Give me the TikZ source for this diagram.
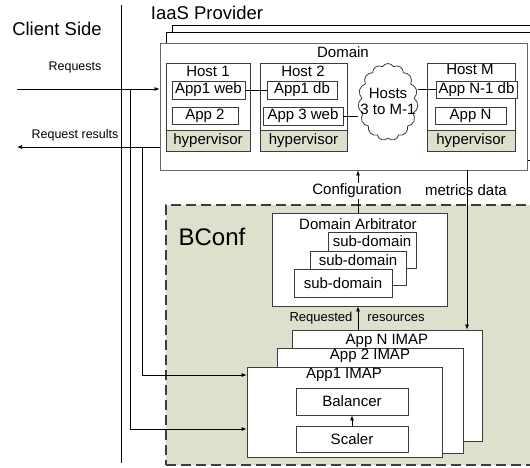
\documentclass[tikz,border=0pt]{standalone}
\usepackage{fontspec}
\setmainfont{Liberation Sans}
\usetikzlibrary{arrows.meta,shapes.symbols}
\definecolor{bgreen}{RGB}{221,224,204}
\definecolor{edge}{RGB}{60,60,60}
\tikzset{
  box/.style={draw=edge,fill=white,line width=0.8pt,inner sep=0pt},
  hyp/.style={draw=edge,fill=bgreen,line width=0.8pt,inner sep=0pt,font=\fontsize{15}{17}\selectfont},
  txt/.style={inner sep=0pt,font=\fontsize{15}{17}\selectfont},
  small/.style={inner sep=0pt,font=\fontsize{12.5}{14}\selectfont},
  big/.style={inner sep=0pt,font=\fontsize{18.5}{20}\selectfont},
  arr/.style={-{Latex[length=5pt,width=4pt]},line width=0.7pt},
  conn/.style={line width=0.7pt},
}
\begin{document}
\begin{tikzpicture}[x=1pt,y=-1pt]
\useasboundingbox (0,0) rectangle (530,467);
\clip (0,0) rectangle (530,467);
% BConf area
\node[draw=edge,fill=bgreen,line width=1.8pt,dash pattern=on 10pt off 5pt,minimum width=380pt,minimum height=260pt,inner sep=0pt] (bconf) at (356,335) {};
\node[inner sep=0pt,font=\fontsize{24}{26}\selectfont] (bconft) at (212,237) {BConf};
% titles
\node[big] (client) at (57,29) {Client Side};
\node[big] (iaas) at (207,13) {IaaS Provider};
% domain stack
\node[draw=black,fill=white,line width=0.8pt,minimum width=390pt,minimum height=125pt] (dom3) at (367,87.5) {};
\node[draw=black,fill=white,line width=0.8pt,minimum width=394pt,minimum height=128pt] (dom2) at (363,96) {};
\node[draw=black!60,fill=white,line width=0.9pt,minimum width=367pt,minimum height=127pt] (domain) at (343.5,106.5) {};
\node[txt] (domt) at (343,52) {Domain};
% Host 1
\node[box,minimum width=84pt,minimum height=88pt] (host1) at (208,107) {};
\node[txt] (host1t) at (208,71) {Host 1};
\node[box,minimum width=73pt,minimum height=18pt,txt] (app1web) at (208.5,90) {App1 web};
\node[box,minimum width=66pt,minimum height=17pt,txt] (app2) at (205,115.5) {App 2};
\node[hyp,minimum width=84pt,minimum height=21pt] (hyp1) at (208,140.5) {hypervisor};
% Host 2
\node[box,minimum width=87pt,minimum height=88pt] (host2) at (303.5,107) {};
\node[txt] (host2t) at (303,71) {Host 2};
\node[box,minimum width=70pt,minimum height=18pt,txt] (app1db) at (302,90) {App1 db};
\node[box,minimum width=80pt,minimum height=18pt,txt] (app3web) at (303,116) {App 3 web};
\node[hyp,minimum width=87pt,minimum height=21pt] (hyp2) at (303.5,140.5) {hypervisor};
% Host M
\node[box,minimum width=88pt,minimum height=88pt] (hostM) at (471,107) {};
\node[txt] (hostMt) at (470,69) {Host M};
\node[box,minimum width=81pt,minimum height=17pt,txt] (appN1db) at (476.5,89.5) {App N-1 db};
\node[box,minimum width=71pt,minimum height=17pt,txt] (appN) at (470.5,115.5) {App N};
\node[hyp,minimum width=88pt,minimum height=21pt] (hypM) at (471,140.5) {hypervisor};
% cloud
\node[cloud,draw=edge,fill=white,line width=0.8pt,cloud puffs=15,cloud puff arc=120,cloud ignores aspect,minimum width=60pt,minimum height=77pt,inner sep=0pt] (cloud) at (388,102) {};
\node[txt,align=center] (cloudt) at (388,101) {Hosts\\[-1pt]3 to M-1};
\draw[conn] (app1web.east) -- (app1db.west);
\draw[conn] (app3web.east) -- (app3web.east -| cloud.west);
\draw[conn] (appN1db.west -| cloud.east) -- (appN1db.west);
% Domain Arbitrator
\node[box,minimum width=175pt,minimum height=93pt] (da) at (359.5,259.5) {};
\node[txt] (dat) at (358,224) {Domain Arbitrator};
\node[box,minimum width=88pt,minimum height=36pt] (sd3) at (372,250) {};
\node[txt] (sd3t) at (372,241.5) {sub-domain};
\node[box,minimum width=96pt,minimum height=34pt] (sd2) at (358,268) {};
\node[txt] (sd2t) at (358,260) {sub-domain};
\node[box,minimum width=98pt,minimum height=28pt,txt] (sd1) at (343,283) {sub-domain};
% IMAPs
\node[box,minimum width=190pt,minimum height=111pt] (imapN) at (387,385.5) {};
\node[txt] (imapNt) at (387,341) {App N IMAP};
\node[box,minimum width=186pt,minimum height=105pt] (imap2) at (370,400.5) {};
\node[txt] (imap2t) at (370,356) {App 2 IMAP};
\node[box,minimum width=195pt,minimum height=90pt] (imap1) at (344.5,412) {};
\node[txt] (imap1t) at (344,375) {App1 IMAP};
\node[box,minimum width=112pt,minimum height=27pt,txt] (balancer) at (352,401.5) {Balancer};
\node[box,minimum width=112pt,minimum height=26pt,txt] (scaler) at (352,439) {Scaler};
\draw[arr] (scaler.north) -- (balancer.south);
% configuration / metrics / resources
\coordinate (cfg) at (358,213);
\draw[arr] (cfg) -- (cfg |- domain.south);
\node[txt,fill=white,inner sep=1pt] (cfgt) at (357,191) {Configuration};
\coordinate (mtop) at (467,170);
\draw[arr] (mtop) -- (mtop |- imapN.north);
\node[txt] (mett) at (466,190) {metrics data};
\coordinate (rr) at (358,330);
\draw[arr] (rr) -- (rr |- da.south);
\node[small,font=\fontsize{13}{15}\selectfont] (reqt) at (321,318) {Requested};
\node[small,font=\fontsize{13}{15}\selectfont] (rest) at (396,318) {resources};
% client side
\coordinate (cs1) at (121,5);
\coordinate (cs2) at (121,463);
\draw[conn] (cs1) -- (cs2);
\node[small] (reqlbl) at (75,67) {Requests};
\node[small] (reslbl) at (75,135) {Request results};
\coordinate (reqL) at (17,89);
\draw[arr] (reqL) -- (reqL -| domain.west);
\coordinate (resL) at (17,147);
\draw[arr] (resL -| domain.west) -- (resL);
\coordinate (v1) at (130,89);
\coordinate (v2) at (142,147);
\draw[arr] (v1) |- ([yshift=-17pt]imap1.west);
\draw[arr] (v2) |- ([yshift=37pt]imap1.west);
\end{tikzpicture}
\end{document}
